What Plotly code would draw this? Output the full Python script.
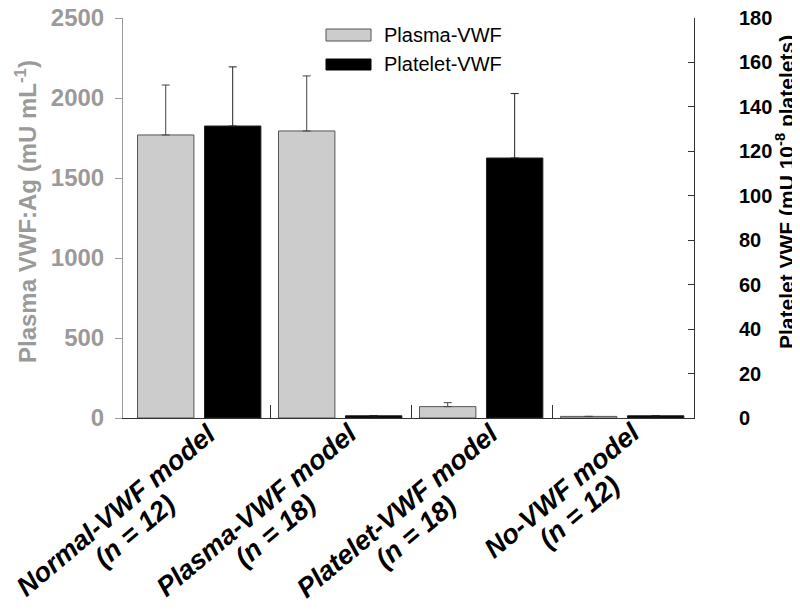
import math
import plotly.graph_objects as go

# ---------------- data ----------------
categories = ["Normal-VWF model", "Plasma-VWF model", "Platelet-VWF model", "No-VWF model"]
n_values = [12, 18, 18, 12]
series_names = ["Plasma-VWF", "Platelet-VWF"]
plasma_vwf = [1769, 1794, 71, 10]
plasma_err = [312, 344, 25, 0]
platelet_vwf = [131.4, 1.0, 117.0, 1.0]
platelet_err = [26.6, 0, 29.0, 0]
left_ticks = [0, 500, 1000, 1500, 2000, 2500]
right_ticks = [0, 20, 40, 60, 80, 100, 120, 140, 160, 180]
left_title = "Plasma VWF:Ag (mU mL<sup>-1</sup>)"
right_title = "Platelet VWF (mU 10<sup>-8</sup> platelets)"

# ---------------- layout geometry (page pixels) ----------------
W, H = 800, 613
OFF = 8                      # default page body margin
L, R, T, B = 123, 694, 18, 418
XR = [-0.543, 3.507]
FONT = "Liberation Sans, Arial, sans-serif"
GRAY = "#9a9a9a"

def px_x(x):
    return (x - L) / (R - L)

def px_y(y):
    return (B - y) / (B - T)

# Arial bold widths (per 1000 em) for label width estimate
AW = {' ': 278, '(': 333, ')': 333, '=': 584, '-': 333, 'N': 722, 'V': 667, 'W': 944,
      'F': 611, 'P': 667, 'a': 556, 'd': 611, 'e': 556, 'l': 278, 'm': 889, 'n': 611,
      'o': 611, 'r': 389, 's': 556, 't': 333}
def tw(s, size):
    return sum(AW.get(ch, 556) for ch in s) * size / 1000.0

fig = go.Figure()

fig.add_trace(go.Bar(
    x=list(range(len(categories))), y=plasma_vwf, name=series_names[0],
    width=0.40, offset=-0.44, yaxis="y",
    marker=dict(color="#cccccc", line=dict(color="#555555", width=1)),
    error_y=dict(type="data", symmetric=False, array=plasma_err,
                 arrayminus=[0] * len(plasma_err), color="#444444", thickness=1, width=4),
    showlegend=False,
))
fig.add_trace(go.Bar(
    x=list(range(len(categories))), y=platelet_vwf, name=series_names[1],
    width=0.40, offset=0.035, yaxis="y2",
    marker=dict(color="#000000", line=dict(color="#222222", width=1)),
    error_y=dict(type="data", symmetric=False, array=platelet_err,
                 arrayminus=[0] * len(platelet_err), color="#222222", thickness=1, width=4),
    showlegend=False,
))

# ---------------- category labels (rotated, two lines) ----------------
ang = 40.0
c, s = math.cos(math.radians(ang)), math.sin(math.radians(ang))
lab_size = 27
annotations = []
for i, (cat, n) in enumerate(zip(categories, n_values)):
    l1 = cat
    l2 = f"(n = {n})"
    L1, L2 = tw(l1, lab_size), tw(l2, lab_size)
    ax_dx, ax_dy = 25, 415
    annotations.append(dict(
        x=i, xref="x", y=0, yref="paper", xanchor="right", yanchor="top",
        xshift=ax_dx, yshift=-(ax_dy - B), text=f"<b><i>{l1}</i></b>", textangle=-ang,
        showarrow=False, font=dict(family=FONT, size=lab_size, color="#000000")))
    d = (L1 - L2) / 2.0
    gap = 28
    dx2 = -d * c + gap * s
    dy2 = d * s + gap * c
    annotations.append(dict(
        x=i, xref="x", y=0, yref="paper", xanchor="right", yanchor="top",
        xshift=ax_dx + dx2, yshift=-(ax_dy + dy2 - B), text=f"<b><i>{l2}</i></b>", textangle=-ang,
        showarrow=False, font=dict(family=FONT, size=lab_size, color="#000000")))

# ---------------- axis titles (placed precisely) ----------------
annotations.append(dict(x=px_x(26), xref="paper", y=px_y(212), yref="paper",
                        xanchor="center", yanchor="middle", textangle=-90, showarrow=False,
                        text=left_title,
                        font=dict(family=FONT, size=24, color=GRAY, weight="bold")))
annotations.append(dict(x=px_x(785), xref="paper", y=px_y(192), yref="paper",
                        xanchor="center", yanchor="middle", textangle=-90, showarrow=False,
                        text=right_title,
                        font=dict(family=FONT, size=21, color="#000000", weight="bold")))

# ---------------- manual legend ----------------
shapes = []
leg_rows = [(29, 41, "#cccccc", "#555555"), (59, 70, "#000000", "#000000")]
for (y0, y1, fc, lc), name in zip(leg_rows, series_names):
    shapes.append(dict(type="rect", xref="paper", yref="paper",
                       x0=px_x(326), x1=px_x(371), y0=px_y(y1), y1=px_y(y0),
                       fillcolor=fc, line=dict(color=lc, width=1)))
    annotations.append(dict(x=px_x(382), xref="paper", y=px_y((y0 + y1) / 2), yref="paper",
                            xanchor="left", yanchor="middle", text=name, showarrow=False,
                            font=dict(family=FONT, size=20, color="#000000")))

fig.update_layout(
    width=W, height=H,
    margin=dict(l=L - OFF, r=W - (R - OFF), t=T - OFF, b=H - (B - OFF), autoexpand=False),
    paper_bgcolor="white", plot_bgcolor="white",
    barmode="overlay",
    showlegend=False,
    font=dict(family=FONT),
    xaxis=dict(range=XR, showgrid=False, zeroline=False, showline=True, automargin=False,
               linecolor="#333333", linewidth=1,
               tickmode="array", tickvals=[0.5, 1.5, 2.5], ticks="inside",
               ticklen=13, tickcolor="#333333", showticklabels=False),
    yaxis=dict(range=[0, 2500], tickmode="array", tickvals=left_ticks, automargin=False,
               showgrid=False, zeroline=False, showline=True, linecolor=GRAY, linewidth=1,
               ticks="outside", ticklen=7, tickcolor=GRAY, ticklabelstandoff=6,
               ticklabeloverflow="allow",
               tickfont=dict(family=FONT, size=24, color=GRAY, weight="bold")),
    yaxis2=dict(range=[0, 180], overlaying="y", side="right", tickmode="array",
                tickvals=right_ticks, showgrid=False, zeroline=False, showline=True,
                automargin=False, ticklabeloverflow="allow",
                linecolor="#333333", linewidth=1, ticks="inside", ticklen=6,
                tickcolor="#333333", ticklabelstandoff=40,
                tickfont=dict(family=FONT, size=20, color="#000000", weight="bold")),
    annotations=annotations,
    shapes=shapes,
)

fig.write_html("out.html")
